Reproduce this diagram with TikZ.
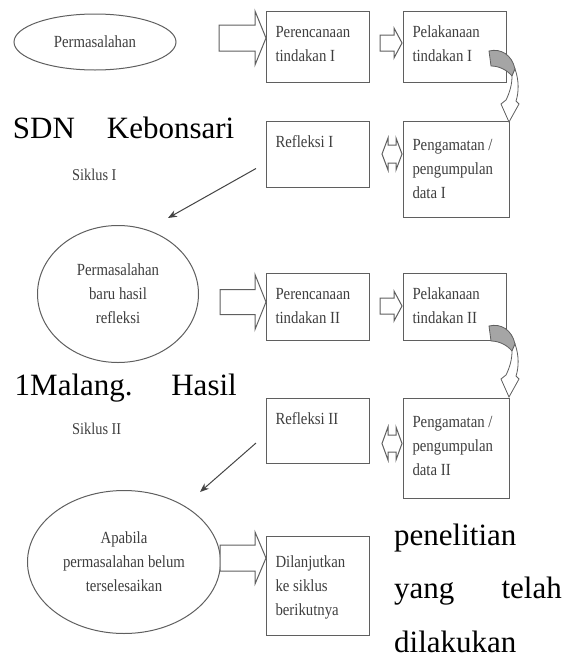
\documentclass[tikz,border=0pt]{standalone}
\usepackage{fontspec}
\setmainfont{Liberation Serif}
\newfontfamily\condf[FakeStretch=0.87]{Liberation Serif}
\usetikzlibrary{shapes.geometric,arrows.meta,calc}
\definecolor{ln}{RGB}{95,95,95}
\definecolor{tx}{RGB}{62,62,62}
\definecolor{curlgray}{RGB}{165,165,165}
\newcommand\boxf{\condf\fontsize{17}{24}\selectfont}
% parbox: width, height, left indent, first baseline, text
\newcommand\btx[5]{\parbox[c][#2pt][t]{#1pt}{\raggedright\leftskip=#3pt\relax\rule{0pt}{#4pt}#5}}
% block arrow: tail x, neck x, tip x, centre y, shaft half, head half
\newcommand\blockarrow[6]{\draw[blk] (#1,#4-#5) -- (#2,#4-#5) -- (#2,#4-#6) -- (#3,#4) -- (#2,#4+#6) -- (#2,#4+#5) -- (#1,#4+#5) -- cycle;}
% double arrow: left x, left neck, right neck, right x, centre y, shaft half, head half
\newcommand\dblarrow[7]{\draw[blk] (#1,#5) -- (#2,#5-#7) -- (#2,#5-#6) -- (#3,#5-#6) -- (#3,#5-#7) -- (#4,#5) -- (#3,#5+#7) -- (#3,#5+#6) -- (#2,#5+#6) -- (#2,#5+#7) -- cycle;}
\tikzset{
  bx/.style={draw=ln, line width=1pt, inner sep=0pt, anchor=north west, font=\boxf, text=tx},
  el/.style={ellipse, draw=ln, line width=1pt, inner sep=0pt, align=center, font=\boxf, text=tx},
  big/.style={anchor=base west, font=\fontsize{31}{31}\selectfont, inner sep=0pt, text=black},
  sik/.style={anchor=base west, font=\condf\fontsize{16.5}{16.5}\selectfont, inner sep=0pt, text=tx},
  blk/.style={draw=ln, line width=1pt, fill=white, line join=miter},
  lnk/.style={draw=ln!70!black, line width=1pt, -{Stealth[length=9pt,width=7pt]}},
  curl/.pic={
    \draw[fill=curlgray, draw=ln, line width=0.8pt] (489,51) .. controls (501,48) and (512,55) .. (515,69) -- (512,76) .. controls (507,70) and (499,66) .. (491,66) -- cycle;
    \draw[blk, line width=0.8pt] (515,69) .. controls (519,80) and (519,92) .. (516,101) -- (519,104) -- (509,122) -- (501,104) -- (506,100) .. controls (510,92) and (512,84) .. (512,76) -- cycle;
  }
}
\begin{document}
\begin{tikzpicture}[x=1pt,y=-1pt]
\useasboundingbox (0,0) rectangle (567,659);
% ---- cycle I
\node[el, minimum width=162pt, minimum height=56pt] (e1) at (95,42) {Permasalahan};
\node[bx] (p1) at (266,11) {\btx{103}{71}{9}{26}{Perencanaan\\tindakan I}};
\node[bx] (l1) at (403,11) {\btx{103}{71}{9}{26}{Pelakanaan\\tindakan I}};
\node[bx] (r1) at (266,121) {\btx{103}{66}{9}{26}{Refleksi I}};
\node[bx] (g1) at (403,121) {\btx{106}{96}{9}{29}{Pengamatan /\\pengumpulan\\data I}};
\blockarrow{219}{255}{266}{38}{13}{27}
\blockarrow{380}{394}{402}{43}{8}{15}
\dblarrow{382}{388}{396}{402}{154}{9}{16}
\pic at (0,0) {curl};
\coordinate (a1s) at ($(r1.west)+(-10,14)$);
\coordinate (a1e) at (168,218);
\draw[lnk] (a1s) -- (a1e);
\node[big] (t1) at (12.7,138) {SDN};
\node[big] (t2) at (106.7,138) {Kebonsari};
\node[sik] (s1) at (72,180) {Siklus I};
% ---- cycle II
\node[el, minimum width=161pt, minimum height=137pt] (e2) at (118,294) {Permasalahan\\baru hasil\\refleksi};
\node[bx] (p2) at (266,273) {\btx{103}{67}{9}{26}{Perencanaan\\tindakan II}};
\node[bx] (l2) at (403,273) {\btx{103}{67}{9}{26}{Pelakanaan\\tindakan II}};
\node[bx] (r2) at (266,398) {\btx{103}{65}{9}{26}{Refleksi II}};
\node[bx] (g2) at (403,398) {\btx{106}{100}{9}{29}{Pengamatan /\\pengumpulan\\data II}};
\blockarrow{220}{255}{266}{302}{12.5}{27.5}
\blockarrow{380}{394}{402}{306}{8}{15}
\dblarrow{382}{388}{396}{402}{443.5}{8.5}{16.5}
\pic at (0,275) {curl};
\coordinate (a2s) at ($(r2.west)+(-10,12)$);
\coordinate (a2e) at (200,492);
\draw[lnk] (a2s) -- (a2e);
\node[big] (t3) at (14.5,395) {1Malang.};
\node[big, anchor=base east] (t4) at (237,395) {Hasil};
\node[sik] (s2) at (72,434) {Siklus II};
% ---- end
\node[el, minimum width=193pt, minimum height=143pt] (e3) at (124,562) {Apabila\\permasalahan belum\\terselesaikan};
\node[bx] (d) at (266,536) {\btx{103}{99}{9}{31}{Dilanjutkan\\ke siklus\\berikutnya}};
\blockarrow{220}{255}{266}{558}{13}{26}
\node[big] (t5) at (394,545) {penelitian};
\node[big] (t6) at (394,598) {yang};
\node[big, anchor=base east] (t7) at (562,598) {telah};
\node[big] (t8) at (394,652) {dilakukan};
\end{tikzpicture}
\end{document}
